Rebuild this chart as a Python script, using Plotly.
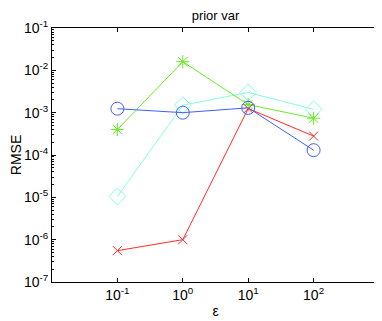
import plotly.graph_objects as go

eps = [0.1, 1, 10, 100]

blue_rmse = [1.24e-3, 1.0e-3, 1.3e-3, 1.3e-4]
cyan_rmse = [1.05e-5, 1.5e-3, 3.0e-3, 1.2e-3]
green_rmse = [4.0e-4, 1.6e-2, 1.55e-3, 7.4e-4]
red_rmse = [5.5e-7, 1.0e-6, 1.25e-3, 2.8e-4]

x_ticks = [0.1, 1, 10, 100]
x_ticklabels = ['10<sup>-1</sup>', '10<sup>0</sup>', '10<sup>1</sup>', '10<sup>2</sup>']
y_ticks = [1e-7, 1e-6, 1e-5, 1e-4, 1e-3, 1e-2, 1e-1]
y_ticklabels = ['10<sup>-7</sup>', '10<sup>-6</sup>', '10<sup>-5</sup>', '10<sup>-4</sup>',
                '10<sup>-3</sup>', '10<sup>-2</sup>', '10<sup>-1</sup>']

series = [
    (cyan_rmse, '#80ffe0', 'diamond-open', 13),
    (green_rmse, '#66ee22', 'asterisk-open', 11),
    (red_rmse, '#ff2a2a', 'x-thin-open', 9),
    (blue_rmse, '#4060ff', 'circle-open', 13),
]

fig = go.Figure()
for vals, col, sym, sz in series:
    fig.add_trace(go.Scatter(x=eps, y=vals, mode='lines+markers',
                             line=dict(color=col, width=1),
                             marker=dict(symbol=sym, size=sz, color=col, line=dict(color=col, width=1)),
                             showlegend=False))

# minor ticks for the log y axis
y_minor = [m * d for d in y_ticks[:-1] for m in range(2, 10)]

# page body has an 8px margin, so the figure is sized to fit the window
fig.update_layout(
    width=374, height=313,
    margin=dict(l=44, r=3, t=20, b=39, autoexpand=False),
    paper_bgcolor='white', plot_bgcolor='white',
    font=dict(family='Liberation Sans, Arial, sans-serif', size=14, color='black'),
    title=dict(text='prior var', x=0.5, xref='paper', xanchor='center', y=0.99, yanchor='top',
               pad=dict(t=0), font=dict(size=13)),
    xaxis=dict(type='log', range=[-2, 3], tickvals=x_ticks, ticktext=x_ticklabels, automargin=False,
               ticks='inside', ticklen=4, tickcolor='black', showgrid=False, zeroline=False,
               showline=True, linecolor='black', linewidth=1, mirror='ticks',
               title=dict(text='ε', standoff=4, font=dict(size=14))),
    yaxis=dict(type='log', range=[-7, -1], tickvals=y_ticks, ticktext=y_ticklabels, automargin=False,
               ticks='inside', ticklen=4, tickcolor='black', showgrid=False, zeroline=False,
               showline=True, linecolor='black', linewidth=1, mirror='ticks',
               minor=dict(tickvals=y_minor, ticks='inside', ticklen=2, tickcolor='black', showgrid=False),
               title=dict(text='RMSE', standoff=2, font=dict(size=14))),
)

fig.write_html("out.html")
